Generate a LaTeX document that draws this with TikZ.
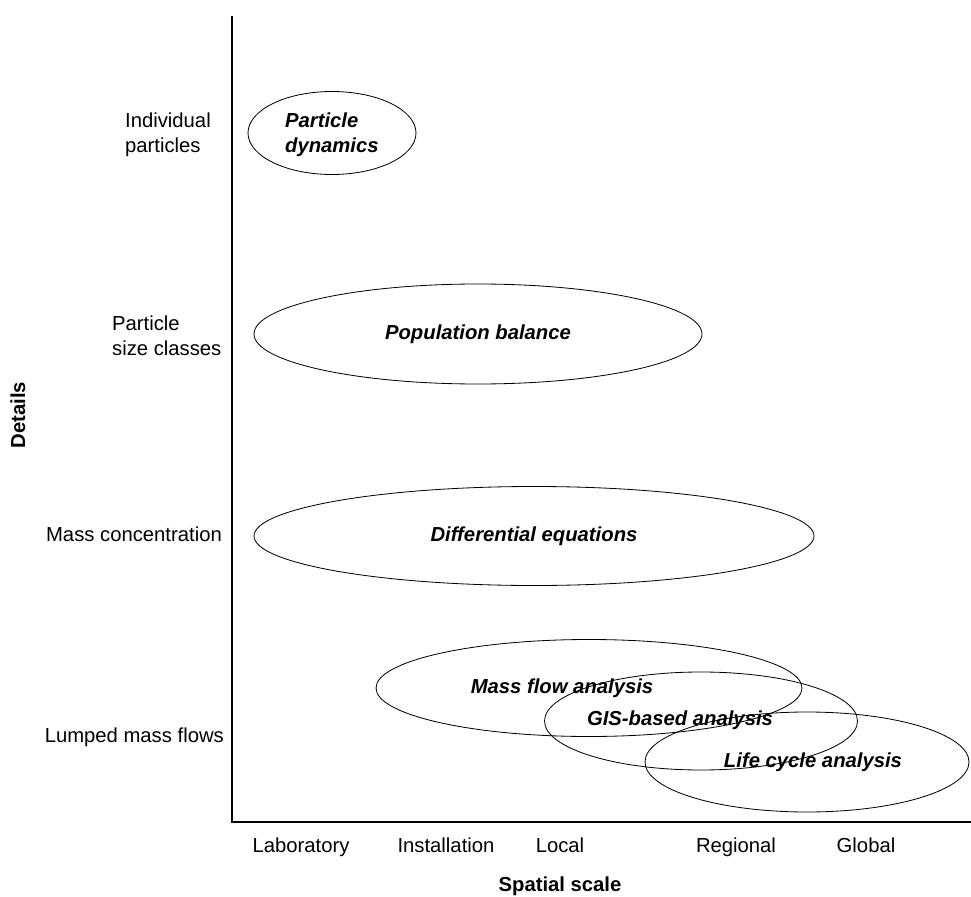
\documentclass[tikz,border=0pt]{standalone}
\usepackage{fontspec}
\setmainfont{Liberation Sans}
\usetikzlibrary{shapes.geometric,positioning}

\newlength\unitpx
\setlength\unitpx{0.03cm}

\begin{document}
\begin{tikzpicture}[x=\unitpx, y=-\unitpx, font=\fontsize{17.3}{21.3}\selectfont,
    axis/.style={line width=2.4pt},
    blob/.style={ellipse, draw, line width=0.7pt, inner sep=0pt},
    method/.style={font=\fontsize{17.3}{21.3}\selectfont\bfseries\itshape, align=left},
    level/.style={align=left},
    scalelbl/.style={anchor=base},
    axistitle/.style={font=\fontsize{17.3}{21.3}\selectfont\bfseries}]
    \useasboundingbox (0,0) rectangle (971,897);

    % axes
    \coordinate (ytop)   at (232,16);
    \coordinate (origin) at (232,822);
    \coordinate (xend)   at (971,822);
    \draw[axis] (ytop) -- (origin) -- (xend);

    % level of detail
    \node[level, anchor=west]  (indiv)  at (121,135) {Individual\\particles};
    \node[level, anchor=west]  (sizecl) at (108,336) {Particle\\size classes};
    \node[level, anchor=east]  (massc)  at (226,534) {Mass concentration};
    \node[level, anchor=east]  (lumped) at (228,737) {Lumped mass flows};
    \node[axistitle, rotate=90] (details) at (18,415) {Details};

    % spatial scale
    \node[scalelbl] (lab)    at (301,852) {Laboratory};
    \node[scalelbl] (inst)   at (446,852) {Installation};
    \node[scalelbl] (local)  at (560,852) {Local};
    \node[scalelbl] (region) at (736,852) {Regional};
    \node[scalelbl] (global) at (866,852) {Global};
    \node[axistitle] (spatial) at (560,886) {Spatial scale};

    % methods
    \node[blob, minimum width=168\unitpx, minimum height=83\unitpx]  (pd)  at (332,133) {};
    \node[blob, minimum width=448\unitpx, minimum height=100\unitpx] (pb)  at (478,334) {};
    \node[blob, minimum width=560\unitpx, minimum height=99\unitpx]  (de)  at (534,536) {};
    \node[blob, minimum width=426\unitpx, minimum height=97\unitpx]  (mfa) at (589,688) {};
    \node[blob, minimum width=313\unitpx, minimum height=98\unitpx]  (gis) at (701,721) {};
    \node[blob, minimum width=324\unitpx, minimum height=100\unitpx] (lca) at (807,762) {};

    \node[method, anchor=west] (pdtxt)  at (281,135) {Particle\\dynamics};
    \node[method]              (pbtxt)  at (478,334) {Population balance};
    \node[method]              (detxt)  at (534,536) {Differential equations};
    \node[method]              (mfatxt) at (562,688) {Mass flow analysis};
    \node[method]              (gistxt) at (680,720) {GIS-based analysis};
    \node[method]              (lcatxt) at (813,762) {Life cycle analysis};
\end{tikzpicture}
\end{document}
